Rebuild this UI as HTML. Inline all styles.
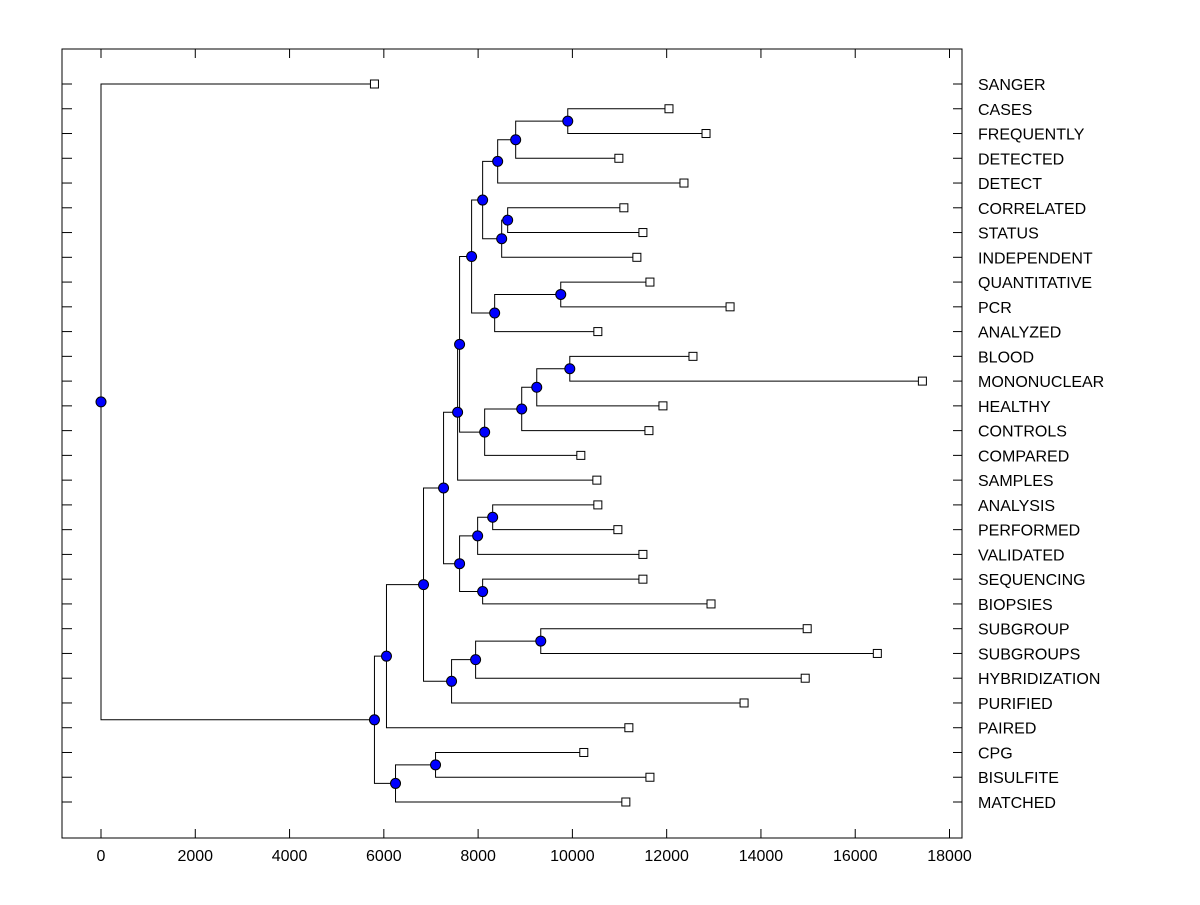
<!DOCTYPE html>
<html><head><meta charset="utf-8"><style>
body{margin:0;background:#fff}
text{font-family:"Liberation Sans",Arial,sans-serif}
</style></head><body>
<svg id="chart" width="1200" height="900" xmlns="http://www.w3.org/2000/svg"></svg>
<script>
const leafLabels=["SANGER","CASES","FREQUENTLY","DETECTED","DETECT","CORRELATED","STATUS","INDEPENDENT","QUANTITATIVE","PCR","ANALYZED","BLOOD","MONONUCLEAR","HEALTHY","CONTROLS","COMPARED","SAMPLES","ANALYSIS","PERFORMED","VALIDATED","SEQUENCING","BIOPSIES","SUBGROUP","SUBGROUPS","HYBRIDIZATION","PURIFIED","PAIRED","CPG","BISULFITE","MATCHED"];
const leafValues=[5801,12049,12835,10986,12367,11092,11496,11368,11645,13345,10540,12558,17425,11921,11624,10179,10519,10540,10965,11496,11496,12941,14981,16469,14939,13642,11198,10242,11645,11134];
const mergeLeft=[1,30,31,5,33,32,8,36,35,11,39,40,41,38,43,17,45,20,46,44,22,50,51,49,53,27,55,54,0];
const mergeRight=[2,3,4,6,7,34,9,10,37,12,13,14,15,42,16,18,19,21,47,48,23,24,25,52,26,28,29,56,57];
const mergeHeights=[9902,8797,8415,8627,8500,8096,9753,8351,7862,9945,9244,8925,8139,7607,7565,8309,7990,8096,7607,7267,9329,7947,7437,6842,6056,7097,6248,5801,0];
const xTicks=[0,2000,4000,6000,8000,10000,12000,14000,16000,18000];

const NS="http://www.w3.org/2000/svg";
const svg=document.getElementById('chart');
const L=62,R=962,T=49,B=838;
const xs=v=>101+v*(848.5/18000);
const ys=i=>84+i*(802-84)/29;
function mk(tag,attrs,parent){const e=document.createElementNS(NS,tag);for(const k in attrs)e.setAttribute(k,attrs[k]);(parent||svg).appendChild(e);return e;}
const frame=mk('rect',{x:L,y:T,width:R-L,height:B-T,fill:'none',stroke:'#000','stroke-width':1});


const n=leafLabels.length;
for(let i=0;i<n;i++){
  const t1=mk('line',{x1:L,x2:L+10,y1:ys(i),y2:ys(i),stroke:'#000'});
  
  
  const t2=mk('line',{x1:R-9,x2:R,y1:ys(i),y2:ys(i),stroke:'#000'});
  
  
  const lb=mk('text',{x:978,y:ys(i)+6,'font-size':16,fill:'#000'});
  lb.textContent=leafLabels[i];
  
  
}
xTicks.forEach(v=>{
  const a=mk('line',{x1:xs(v),x2:xs(v),y1:B,y2:B-9,stroke:'#000'});
  
  
  const b=mk('line',{x1:xs(v),x2:xs(v),y1:T,y2:T+9,stroke:'#000'});
  
  
  const tl=mk('text',{x:xs(v),y:861,'font-size':16,'text-anchor':'middle',fill:'#000'});
  tl.textContent=v;
  
  
});
const pos=[];
for(let i=0;i<n;i++)pos.push({x:xs(leafValues[i]),y:ys(i)});
const gl=mk('g',{stroke:'#000','stroke-width':1,fill:'none'});


const nodes=[];
for(let m=0;m<mergeHeights.length;m++){
  const a=pos[mergeLeft[m]],b=pos[mergeRight[m]];
  const x=xs(mergeHeights[m]),y=(a.y+b.y)/2;
  const p=mk('path',{d:`M${a.x},${a.y}H${x}V${b.y}H${b.x}`},gl);
  
  
  pos.push({x,y});nodes.push({x,y});
}
for(let i=0;i<n;i++){
  const r=mk('rect',{x:pos[i].x-4,y:pos[i].y-4,width:8,height:8,fill:'#fff',stroke:'#000'});
  
  
}
nodes.forEach(p=>{
  const c=mk('circle',{cx:p.x,cy:p.y,r:5,fill:'#0000ff',stroke:'#000'});
  
  
});
</script>
</body></html>
